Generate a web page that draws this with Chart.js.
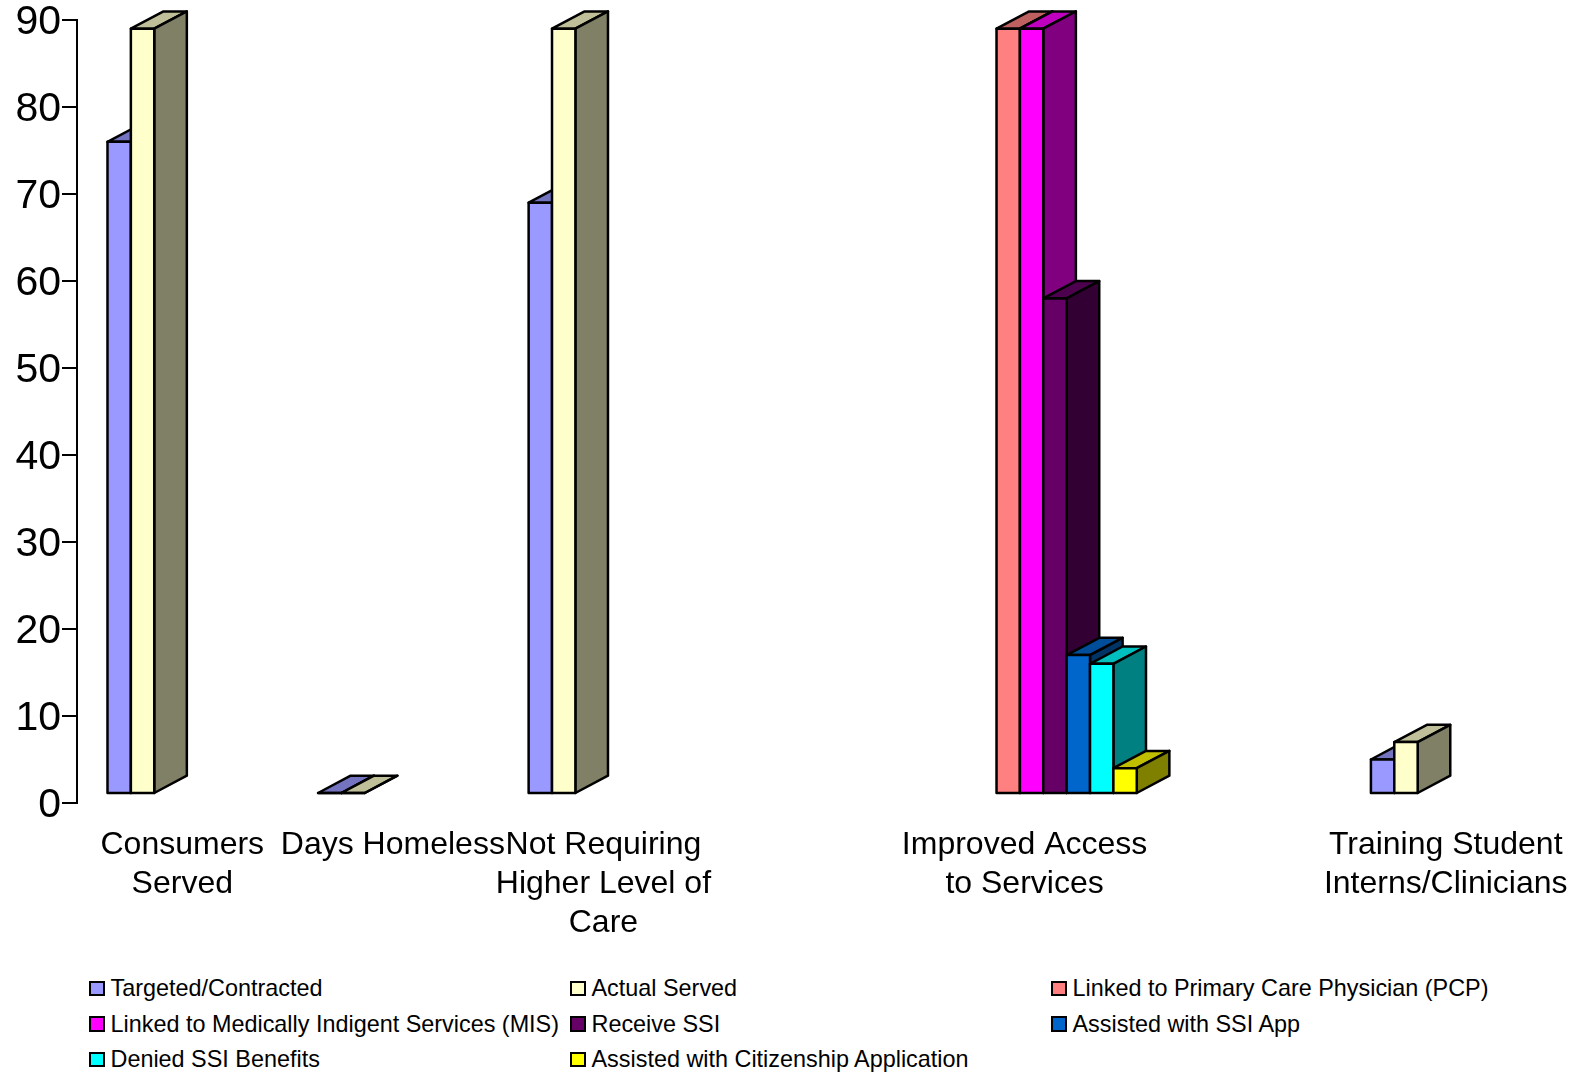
<!DOCTYPE html>
<html lang="en">
<head>
    <meta charset="UTF-8">
    <title>Program Outcomes</title>
    <script src="https://cdn.jsdelivr.net/npm/chart.js"></script>
    <style>
        html, body { margin: 0; padding: 0; background: #fff; }
        body { width: 1579px; height: 1074px; position: relative; overflow: hidden; font-family: "Liberation Sans", Arial, sans-serif; }
        #chart { position: absolute; left: 0; top: 0; }
        #legend { position: absolute; left: 89px; top: 971px; display: grid; grid-template-columns: 481px 481px auto; grid-auto-rows: 35.4px; }
        .item { display: flex; align-items: center; font-size: 23.4px; color: #000; white-space: nowrap; }
        .swatch { width: 11.5px; height: 11.5px; border: 2.6px solid #000; margin-right: 6px; flex: none; }
    </style>
</head>
<body>
    <canvas id="chart" width="1579" height="960"></canvas>
    <div id="legend"></div>
    <script>
        // blank slots between the groups are there in the original axis too
        const categories = [
            ['Consumers', 'Served'],
            'Days Homeless',
            ['Not Requiring', 'Higher Level of', 'Care'],
            '',
            ['Improved Access', 'to Services'],
            '',
            ['Training Student', 'Interns/Clinicians']
        ];
        const yTicks = [0, 10, 20, 30, 40, 50, 60, 70, 80, 90];

        const seriesNames = [
            'Targeted/Contracted', 'Actual Served', 'Linked to Primary Care Physician (PCP)',
            'Linked to Medically Indigent Services (MIS)', 'Receive SSI', 'Assisted with SSI App',
            'Denied SSI Benefits', 'Assisted with Citizenship Application'
        ];
        const targeted   = [76, 1.15, 69, null, null, null, 5];
        const actual     = [89, 1.15, 89, null, null, null, 7];
        const pcp        = [null, null, null, null, 89, null, null];
        const mis        = [null, null, null, null, 89, null, null];
        const receiveSsi = [null, null, null, null, 58, null, null];
        const ssiApp     = [null, null, null, null, 17, null, null];
        const deniedSsi  = [null, null, null, null, 16, null, null];
        const citizen    = [null, null, null, null, 4, null, null];
        const seriesValues = [targeted, actual, pcp, mis, receiveSsi, ssiApp, deniedSsi, citizen];

        // front, top, side colours
        const colors = [
            ['#9999FF', '#7373BF', '#4D4D80'],
            ['#FFFFCC', '#BFBF99', '#808066'],
            ['#FF8080', '#BF6060', '#804040'],
            ['#FF00FF', '#BF00BF', '#800080'],
            ['#660066', '#4D004D', '#330033'],
            ['#0066CC', '#004D99', '#003366'],
            ['#00FFFF', '#00BFBF', '#008080'],
            ['#FFFF00', '#BFBF00', '#808000']
        ];

        const DEPTH_X = 32.6, DEPTH_Y = 17.3, SHIFT_X = 18.7, LINE = 2.5;

        function face(ctx, pts, fill) {
            ctx.beginPath();
            pts.forEach((p, i) => i ? ctx.lineTo(p[0], p[1]) : ctx.moveTo(p[0], p[1]));
            ctx.closePath();
            ctx.fillStyle = fill;
            ctx.fill();
            ctx.stroke();
        }

        // bars have a depth, and each one has to cover the side of the one before it,
        // so draw the datasets left to right here instead of the default reverse order
        const bars3d = {
            id: 'bars3d',
            beforeDraw(chart) {
                // y labels sit a little lower than the tick marks
                chart.scales.y.getLabelItems().forEach(item => {
                    item.options.translation[1] += 2.5;
                });
            },
            beforeDatasetsDraw(chart) {
                const ctx = chart.ctx;
                ctx.save();
                ctx.translate(SHIFT_X, 0);
                ctx.strokeStyle = '#000';
                ctx.lineWidth = LINE;
                ctx.lineJoin = 'round';
                chart.data.datasets.forEach((ds, i) => {
                    chart.getDatasetMeta(i).data.forEach((bar, j) => {
                        if (ds.data[j] === null) return;
                        const p = bar.getProps(['x', 'y', 'base', 'width']);
                        const l = p.x - p.width / 2, r = p.x + p.width / 2;
                        const top = p.y, bot = p.base;
                        face(ctx, [[l, top], [r, top], [r + DEPTH_X, top - DEPTH_Y], [l + DEPTH_X, top - DEPTH_Y]], colors[i][1]);
                        face(ctx, [[r, top], [r + DEPTH_X, top - DEPTH_Y], [r + DEPTH_X, bot - DEPTH_Y], [r, bot]], colors[i][2]);
                        face(ctx, [[l, top], [r, top], [r, bot], [l, bot]], colors[i][0]);
                    });
                });
                ctx.restore();
                return false;
            }
        };

        new Chart(document.getElementById('chart'), {
            type: 'bar',
            data: {
                labels: categories,
                datasets: seriesNames.map((name, i) => ({
                    label: name,
                    data: seriesValues[i],
                    base: 1.15,
                    backgroundColor: colors[i][0],
                    categoryPercentage: 0.888,
                    barPercentage: 1
                }))
            },
            options: {
                responsive: false,
                animation: false,
                layout: { padding: { top: 20, right: 28, left: 0, bottom: 0 } },
                plugins: { legend: { display: false }, tooltip: { enabled: false } },
                scales: {
                    x: {
                        grid: { display: false },
                        border: { display: false },
                        afterFit(scale) {
                            scale.height = 157;
                            scale.paddingLeft = 0;
                            scale.paddingRight = 0;
                        },
                        ticks: {
                            color: '#000',
                            autoSkip: false,
                            maxRotation: 0,
                            padding: 14,
                            font: { family: '"Liberation Sans", Arial, sans-serif', size: 32, lineHeight: 1.23 }
                        }
                    },
                    y: {
                        min: 0,
                        max: 90,
                        afterFit(scale) {
                            scale.width = 77;
                            scale.paddingTop = 0;
                            scale.paddingBottom = 0;
                        },
                        afterBuildTicks(scale) { scale.ticks = yTicks.map(v => ({ value: v })); },
                        border: { display: true, color: '#000', width: 2 },
                        grid: { drawOnChartArea: false, color: '#000', lineWidth: 2, tickLength: 15 },
                        ticks: {
                            color: '#000',
                            padding: 1,
                            font: { family: '"Liberation Sans", Arial, sans-serif', size: 41 }
                        }
                    }
                }
            },
            plugins: [bars3d]
        });

        const legend = document.getElementById('legend');
        seriesNames.forEach((name, i) => {
            const item = document.createElement('div');
            item.className = 'item';
            item.innerHTML = '<span class="swatch" style="background:' + colors[i][0] + '"></span>' + name;
            legend.appendChild(item);
        });
    </script>
</body>
</html>
